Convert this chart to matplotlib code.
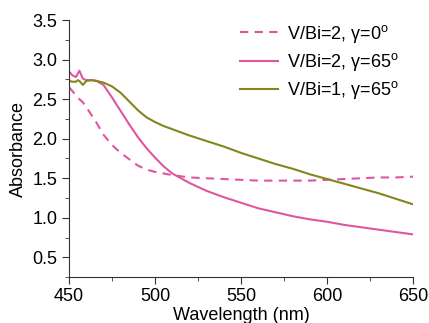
import numpy as np
import matplotlib
matplotlib.use('Agg')
import matplotlib.pyplot as plt
from matplotlib.ticker import MultipleLocator

plt.rcParams['font.family'] = ['Liberation Sans', 'DejaVu Sans']
plt.rcParams['mathtext.fontset'] = 'custom'
plt.rcParams['mathtext.rm'] = 'Liberation Sans'

# Wavelength (nm)
wavelength = [450, 452, 454, 455, 456, 458, 460, 463, 466, 470, 475, 480, 485, 490,
              495, 500, 505, 510, 520, 530, 540, 550, 560, 570, 580, 590, 600, 610,
              620, 630, 640, 650]

# V/Bi=2, gamma=0
abs_v2_g0 = [2.65, 2.60, 2.55, 2.52, 2.50, 2.46, 2.40, 2.30, 2.20, 2.05, 1.92, 1.82,
             1.74, 1.66, 1.61, 1.58, 1.56, 1.54, 1.51, 1.50, 1.49, 1.48, 1.47, 1.47,
             1.47, 1.47, 1.48, 1.49, 1.50, 1.51, 1.51, 1.52]

# V/Bi=2, gamma=65
abs_v2_g65 = [2.85, 2.80, 2.78, 2.82, 2.86, 2.76, 2.74, 2.74, 2.73, 2.68, 2.52, 2.35,
              2.18, 2.02, 1.88, 1.76, 1.65, 1.56, 1.44, 1.34, 1.26, 1.19, 1.12, 1.07,
              1.02, 0.98, 0.95, 0.91, 0.88, 0.85, 0.82, 0.79]

# V/Bi=1, gamma=65
abs_v1_g65 = [2.73, 2.72, 2.72, 2.74, 2.73, 2.68, 2.73, 2.74, 2.73, 2.71, 2.66, 2.58,
              2.47, 2.36, 2.27, 2.21, 2.16, 2.12, 2.04, 1.97, 1.90, 1.82, 1.75, 1.68,
              1.62, 1.55, 1.49, 1.43, 1.37, 1.31, 1.24, 1.17]

pink = '#e055a2'
olive = '#85851f'

fig = plt.figure(figsize=(4.29, 3.23), dpi=100)
ax = fig.add_axes([0.161, 0.142, 0.802, 0.796])

ax.plot(wavelength, abs_v2_g0, color=pink, linestyle=(0, (4, 3)), lw=1.5,
        label='V/Bi=2, γ=0$^\\mathregular{o}$')
ax.plot(wavelength, abs_v2_g65, color=pink, lw=1.5,
        label='V/Bi=2, γ=65$^\\mathregular{o}$')
ax.plot(wavelength, abs_v1_g65, color=olive, lw=1.5,
        label='V/Bi=1, γ=65$^\\mathregular{o}$')

ax.set_xlim(450, 650)
ax.set_ylim(0.25, 3.5)
ax.xaxis.set_major_locator(MultipleLocator(50))
ax.xaxis.set_minor_locator(MultipleLocator(25))
ax.yaxis.set_major_locator(MultipleLocator(0.5))
ax.yaxis.set_minor_locator(MultipleLocator(0.25))
ax.yaxis.set_major_formatter(matplotlib.ticker.FormatStrFormatter('%.1f'))

for side in ['top', 'right']:
    ax.spines[side].set_visible(False)
for side in ['left', 'bottom']:
    ax.spines[side].set_color('#333333')
ax.tick_params(which='both', direction='out', colors='#333333', labelcolor='black', labelsize=13)
ax.tick_params(which='major', length=5)
ax.tick_params(which='minor', length=3)
ax.tick_params(axis='x', pad=2.5)

ax.set_xlabel('Wavelength (nm)', fontsize=13, labelpad=2)
ax.set_ylabel('Absorbance', fontsize=13, labelpad=4)

fig.legend(loc='upper left', bbox_to_anchor=(0.559, 0.93), frameon=False, fontsize=13,
           borderaxespad=0, borderpad=0, handlelength=2.1, handletextpad=0.5,
           labelspacing=0.35)

fig.savefig('out.png', dpi=100)
